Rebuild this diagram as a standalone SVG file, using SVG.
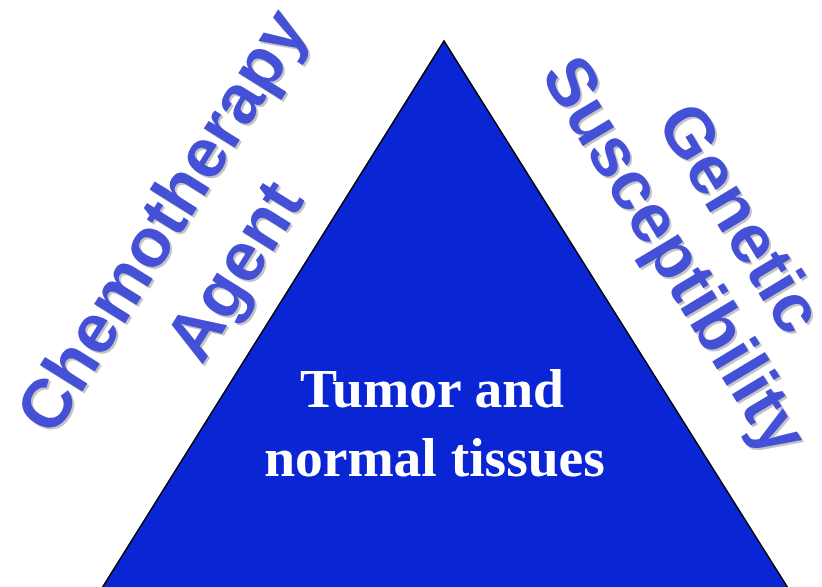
<svg xmlns="http://www.w3.org/2000/svg" width="822" height="587" viewBox="0 0 822 587">
<style>
.lbl{font-family:"Liberation Sans",Arial,sans-serif;font-weight:bold;font-size:69px;text-anchor:middle}
.fg{fill:#4450d6}
.sh{fill:#c4c4c4}
.ctr{font-family:"Liberation Serif","Times New Roman",serif;font-weight:bold;font-size:55.5px;fill:#ffffff;text-anchor:middle}
</style>
<rect width="822" height="587" fill="#ffffff"/>
<g id="triangle">
<polygon points="444,41 102,588 788,588" fill="#0a26d4" stroke="#000000" stroke-width="1.5"/>
<text class="ctr" x="432" y="407">Tumor and</text>
<text class="ctr" x="434.5" y="476">normal tissues</text>
</g>
<g id="chemotherapy-agent">
<g transform="translate(169,226) rotate(-58)"><text class="lbl sh" x="0" y="17">Chemotherapy</text></g>
<g transform="translate(167,224) rotate(-58)"><text class="lbl fg" x="0" y="17">Chemotherapy</text></g>
<g transform="translate(241,276) rotate(-58)"><text class="lbl sh" x="0" y="17">Agent</text></g>
<g transform="translate(239,274) rotate(-58)"><text class="lbl fg" x="0" y="17">Agent</text></g>
</g>
<g id="genetic-susceptibility">
<g transform="translate(744,219) rotate(59)"><text class="lbl sh" x="0" y="25">Genetic</text></g>
<g transform="translate(742,217) rotate(59)"><text class="lbl fg" x="0" y="25">Genetic</text></g>
<g transform="translate(672,260) rotate(59)"><text class="lbl sh" x="0" y="17">Susceptibility</text></g>
<g transform="translate(670,258) rotate(59)"><text class="lbl fg" x="0" y="17">Susceptibility</text></g>
</g>
<g id="connectors"/>
</svg>
